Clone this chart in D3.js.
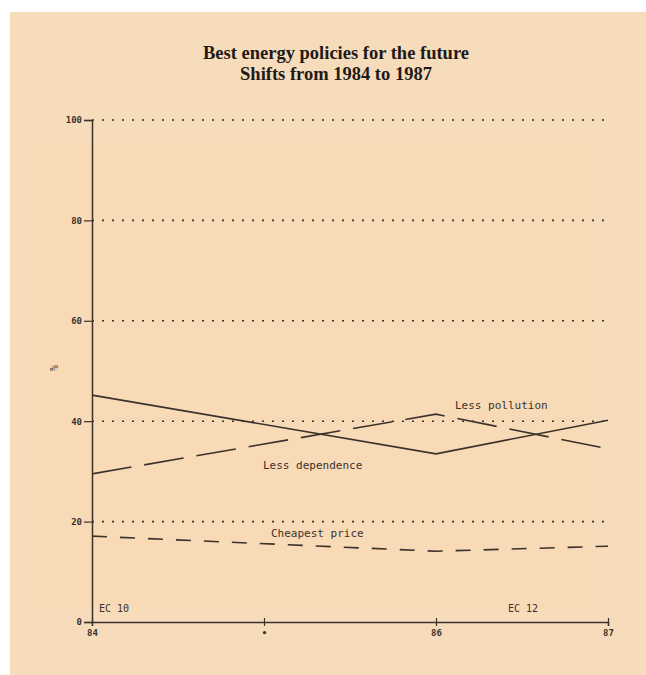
<!DOCTYPE html>
<html>
<head>
<meta charset="utf-8">
<script src="https://cdn.jsdelivr.net/npm/d3@7"></script>
<style>
  body { margin: 0; background: #ffffff; }
</style>
</head>
<body>
<div id="visSpace"></div>
<script>
//Data
var years = [84, 86, 87];
var lessDependence = [45.2, 33.5, 40.2];
var lessPollution = [29.5, 41.4, 34.5];
var cheapestPrice = [17.1, 14.1, 15.1];
var seriesNames = ["Less dependence", "Less pollution", "Cheapest price"];
var yTicks = [0, 20, 40, 60, 80, 100];
var xTicks = [84, 85, 86, 87];
var xTickText = ["84", "\u2022", "86", "87"];
var groupLabels = ["EC 10", "EC 12"];

var width = 646, height = 675;
var ink = "#3a322b";
var mono = "'DejaVu Sans Mono', monospace";

var svg = d3.select("#visSpace")
            .append("svg")
            .attr("width", width)
            .attr("height", height);

//page background (scanned paper)
svg.append("rect")
   .attr("x", 10).attr("y", 12)
   .attr("width", width - 10).attr("height", height - 12)
   .attr("fill", "#f7dcbb");
svg.append("rect")
   .attr("x", 30).attr("y", 140)
   .attr("width", 560).attr("height", 470)
   .attr("fill", "#f9dab6");

//title
var title = svg.append("text")
               .attr("text-anchor", "middle")
               .attr("font-family", "'Liberation Serif', serif")
               .attr("font-weight", "bold")
               .attr("font-size", "18.5px")
               .attr("fill", "#1f1a17");
title.append("tspan").attr("x", 336).attr("y", 59).text("Best energy policies for the future");
title.append("tspan").attr("x", 336).attr("y", 80).text("Shifts from 1984 to 1987");

//scales
var x = d3.scaleLinear().domain([84, 87]).range([92, 608]);
var y = d3.scaleLinear().domain([0, 100]).range([622, 120]);

//dotted gridlines
svg.append("g")
   .selectAll("line")
   .data(yTicks.filter(function(d){ return d > 0; }))
   .enter()
   .append("line")
   .attr("x1", x(84)).attr("x2", x(87))
   .attr("y1", function(d){ return y(d); })
   .attr("y2", function(d){ return y(d); })
   .attr("stroke", ink)
   .attr("stroke-width", 1.6)
   .attr("stroke-dasharray", "2,8");

//y axis
var yAxis = svg.append("g")
               .attr("transform", "translate(" + x(84) + ",0)")
               .call(d3.axisLeft(y).tickValues(yTicks).tickSize(8).tickPadding(2));
yAxis.select(".domain").attr("stroke", ink).attr("stroke-width", 1.5);
yAxis.selectAll(".tick line").attr("stroke", ink).attr("stroke-width", 1.2);
yAxis.selectAll("text")
     .attr("font-family", mono)
     .attr("font-size", "9px")
     .attr("font-weight", "bold")
     .attr("fill", ink);

//x axis
var xAxis = svg.append("g")
               .attr("transform", "translate(0," + y(0) + ")")
               .call(d3.axisBottom(x).tickValues(xTicks).tickSize(4).tickPadding(4)
                       .tickFormat(function(d, i){ return xTickText[i]; }));
xAxis.select(".domain").attr("stroke", ink).attr("stroke-width", 1.5);
xAxis.selectAll(".tick line").attr("stroke", ink).attr("stroke-width", 1.2)
     .attr("y1", -4);
xAxis.selectAll("text")
     .attr("font-family", mono)
     .attr("font-size", "9px")
     .attr("font-weight", "bold")
     .attr("fill", ink);

//% label
svg.append("text")
   .attr("transform", "translate(50,368) rotate(90)")
   .attr("text-anchor", "middle")
   .attr("font-family", mono)
   .attr("font-size", "10px")
   .attr("fill", ink)
   .text("%");

//lines
var line = d3.line()
             .x(function(d){ return x(d[0]); })
             .y(function(d){ return y(d[1]); });
var series = [
  {name: seriesNames[0], values: lessDependence, dash: null},
  {name: seriesNames[1], values: lessPollution, dash: "40,13"},
  {name: seriesNames[2], values: cheapestPrice, dash: "15,13"}
];
svg.append("g")
   .selectAll("path")
   .data(series)
   .enter()
   .append("path")
   .attr("d", function(s){ return line(years.map(function(yr, i){ return [yr, s.values[i]]; })); })
   .attr("fill", "none")
   .attr("stroke", ink)
   .attr("stroke-width", 1.6)
   .attr("stroke-dasharray", function(s){ return s.dash; });

//series labels
var labelPos = [[263, 469], [455, 409], [271, 537]];
svg.append("g")
   .selectAll("text")
   .data(seriesNames)
   .enter()
   .append("text")
   .attr("x", function(d, i){ return labelPos[i][0]; })
   .attr("y", function(d, i){ return labelPos[i][1]; })
   .attr("font-family", mono)
   .attr("font-size", "11px")
   .attr("fill", ink)
   .text(function(d){ return d; });

//EC labels
svg.append("g")
   .selectAll("text")
   .data(groupLabels)
   .enter()
   .append("text")
   .attr("x", function(d, i){ return i == 0 ? 99 : 508; })
   .attr("y", 612)
   .attr("font-family", mono)
   .attr("font-size", "10px")
   .attr("fill", ink)
   .text(function(d){ return d; });
</script>
</body>
</html>
